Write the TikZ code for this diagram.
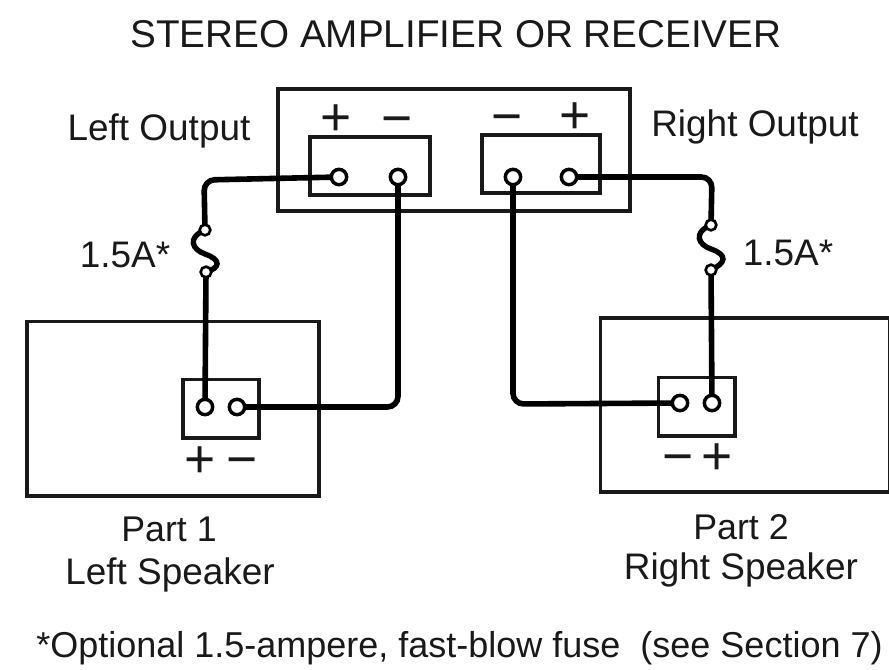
\documentclass[tikz,border=0pt]{standalone}
\usepackage{fontspec}
\setmainfont{Liberation Sans}
\begin{document}
\begin{tikzpicture}[x=0.75pt,y=-0.75pt,
  box/.style={draw=black!90,line width=2.5pt,inner sep=0pt,minimum width=#1},
  wire/.style={draw=black,line width=4.2pt,rounded corners=8pt},
  fusewire/.style={draw=black,line width=4pt},
  term/.style={circle,draw=black,line width=2.6pt,fill=white,minimum size=11.5pt,inner sep=0pt},
  fuseend/.style={circle,draw=black,line width=2pt,fill=white,minimum size=8pt,inner sep=0pt},
  lab/.style={inner sep=0pt,text=black!90,font=\fontsize{27.7}{30}\selectfont,align=center},
  sign/.style={inner sep=0pt,text=black!90,anchor=base,font=\fontsize{40}{40}\selectfont}]
\useasboundingbox (0,0) rectangle (889,669);
% boxes
\node[box=264pt,minimum height=91.5pt] (amp) at (454,150) {};
\node[box=90pt,minimum height=43.5pt] (lterm) at (370,166) {};
\node[box=88.5pt,minimum height=43.5pt] (rterm) at (541,164) {};
\node[box=219pt,minimum height=131pt] (lspk) at (173,408.5) {};
\node[box=216.5pt,minimum height=130.5pt] (rspk) at (745,405) {};
\node[box=57pt,minimum height=44pt] (lst) at (221,408.5) {};
\node[box=57.5pt,minimum height=44pt] (rst) at (696.5,406.5) {};
% corner coordinates
\coordinate (c1) at (204,180);
\coordinate (c2) at (398,407);
\coordinate (c3) at (712,177);
\coordinate (c4) at (513,404);
% wire end points, under the terminals
\coordinate (al0) at (339,177);
\coordinate (am0) at (398,177);
\coordinate (bm0) at (513,177);
\coordinate (br0) at (569,177);
\coordinate (sl10) at (205,407);
\coordinate (sl20) at (237,407);
\coordinate (sr10) at (680,403);
\coordinate (sr20) at (712,403);
\coordinate (f10) at (205,230);
\coordinate (f20) at (206,272);
\coordinate (f30) at (711,225);
\coordinate (f40) at (711,270);
\draw[wire] (al0) -- (c1) -- (f10);
\draw[wire] (f20) -- (sl10);
\draw[wire] (am0) -- (c2) -- (sl20);
\draw[wire] (br0) -- (c3) -- (f30);
\draw[wire] (f40) -- (sr20);
\draw[wire] (bm0) -- (c4) -- (sr10);
\draw[fusewire] (f10) .. controls (186,238) and (193,250) .. (205,254) .. controls (222,260) and (220,268) .. (f20);
\draw[fusewire] (f30) .. controls (692,233) and (699,245) .. (711,249) .. controls (728,255) and (726,263) .. (f40);
% terminals
\node[term] (al) at (al0) {};
\node[term] (am) at (am0) {};
\node[term] (bm) at (bm0) {};
\node[term] (br) at (br0) {};
\node[term] (sl1) at (sl10) {};
\node[term] (sl2) at (sl20) {};
\node[term] (sr1) at (sr10) {};
\node[term] (sr2) at (sr20) {};
% fuses
\node[fuseend] (f1) at (f10) {};
\node[fuseend] (f2) at (f20) {};
\node[fuseend] (f3) at (f30) {};
\node[fuseend] (f4) at (f40) {};
% signs
\node[sign] (p1) at (336,135) {+};
\node[sign] (m1) at (397,136) {−};
\node[sign] (m2) at (507,134) {−};
\node[sign] (p2) at (575,133) {+};
\node[sign] (p3) at (200,477) {+};
\node[sign] (m3) at (242,477) {−};
\node[sign] (m4) at (678,474) {−};
\node[sign] (p4) at (717,474) {+};
% labels
\node[lab,font=\fontsize{29}{32}\selectfont] (title) at (456,34) {STEREO AMPLIFIER OR RECEIVER};
\node[lab] (lo) at (159,131) {Left Output};
\node[lab] (ro) at (755,127) {Right Output};
\node[lab] (fa) at (125,255) {1.5A*};
\node[lab] (fb) at (788,253) {1.5A*};
\node[lab,font=\fontsize{26.8}{30}\selectfont] (s1t) at (169,529) {Part 1};
\node[lab] (s1b) at (170,575) {Left Speaker};
\node[lab,font=\fontsize{26.8}{30}\selectfont] (s2t) at (741,527) {Part 2};
\node[lab] (s2b) at (741,570) {Right Speaker};
\node[lab,anchor=west,font=\fontsize{27}{30}\selectfont] (note) at (36,648) {*Optional 1.5-ampere, fast-blow fuse~ (see Section 7)};
\end{tikzpicture}
\end{document}
